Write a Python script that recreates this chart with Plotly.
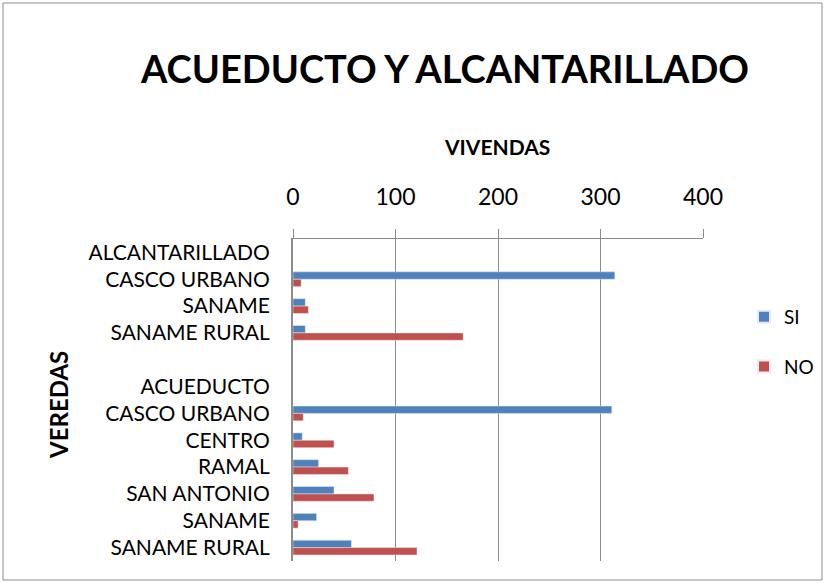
import plotly.graph_objects as go

categories = ["ALCANTARILLADO", "CASCO URBANO", "SANAME", "SANAME RURAL", "",
              "ACUEDUCTO", "CASCO URBANO", "CENTRO", "RAMAL", "SAN ANTONIO",
              "SANAME", "SANAME RURAL"]
si_values = [None, 314, 12, 12, None, None, 311, 9, 25, 40, 23, 57]
no_values = [None, 8, 15, 166, None, None, 10, 40, 54, 79, 5, 121]
x_ticks = [0, 100, 200, 300, 400]

positions = list(range(len(categories)))
FONT = "Lato"

fig = go.Figure()
fig.add_trace(go.Bar(y=positions, x=si_values, orientation="h", name="SI",
                     marker=dict(color="#4F81BD"), legendgroup="si"))
fig.add_trace(go.Bar(y=positions, x=no_values, orientation="h", name="NO",
                     marker=dict(color="#C0504D"), legendgroup="no"))

L, R, T, B = 293, 123, 239, 22
W, H = 826, 583
pw, ph = W - L - R, H - T - B

def px_x(p):
    return (p - L) / pw

def px_y(p):
    return (H - B - p) / ph

fig.update_layout(
    width=W, height=H,
    margin=dict(l=L, r=R, t=T, b=B, autoexpand=False),
    paper_bgcolor="white", plot_bgcolor="white",
    barmode="group", bargap=0.45, bargroupgap=0,
    font=dict(family=FONT, color="black", size=19),
    showlegend=True,
    legend=dict(x=744 / W, y=1 - 298 / H, xref="container", yref="container",
                xanchor="left", yanchor="top",
                font=dict(size=19, family=FONT), tracegroupgap=22,
                itemsizing="constant", bgcolor="rgba(0,0,0,0)"),
    xaxis=dict(side="top", range=[0, 400], tickvals=x_ticks, automargin=False,
               showgrid=True, gridcolor="#8c8c8c", gridwidth=1,
               showline=True, linecolor="#8c8c8c", linewidth=1,
               ticks="outside", ticklen=9, tickcolor="#8c8c8c",
               ticklabelstandoff=15, zeroline=False,
               tickfont=dict(size=23, family=FONT)),
    yaxis=dict(range=[len(categories) - 0.5, -0.5], tickvals=positions,
               ticktext=categories, showgrid=False, zeroline=False,
               automargin=False,
               showline=True, linecolor="#8c8c8c", linewidth=2,
               ticks="", ticklabelstandoff=17,
               tickfont=dict(size=21, family=FONT)),
    annotations=[
        dict(text="<b>ACUEDUCTO Y ALCANTARILLADO</b>", x=px_x(444), y=px_y(68),
             xref="paper", yref="paper", showarrow=False,
             font=dict(size=38, family=FONT), xanchor="center", yanchor="middle"),
        dict(text="<b>VIVENDAS</b>", x=px_x(497), y=px_y(146),
             xref="paper", yref="paper", showarrow=False,
             font=dict(size=21, family=FONT), xanchor="center", yanchor="middle"),
        dict(text="<b>VEREDAS</b>", x=px_x(58), y=px_y(405),
             xref="paper", yref="paper", showarrow=False, textangle=-90,
             font=dict(size=24, family=FONT), xanchor="center", yanchor="middle"),
    ],
    shapes=[
        dict(type="rect", xref="paper", yref="paper",
             x0=px_x(3), x1=px_x(822), y0=px_y(580), y1=px_y(3),
             line=dict(color="#8c8c8c", width=1), fillcolor="rgba(0,0,0,0)",
             layer="below"),
    ],
)

fig.write_html("out.html", config={"displayModeBar": False},
               post_script="document.body.style.margin='0';document.body.style.overflow='hidden';")
